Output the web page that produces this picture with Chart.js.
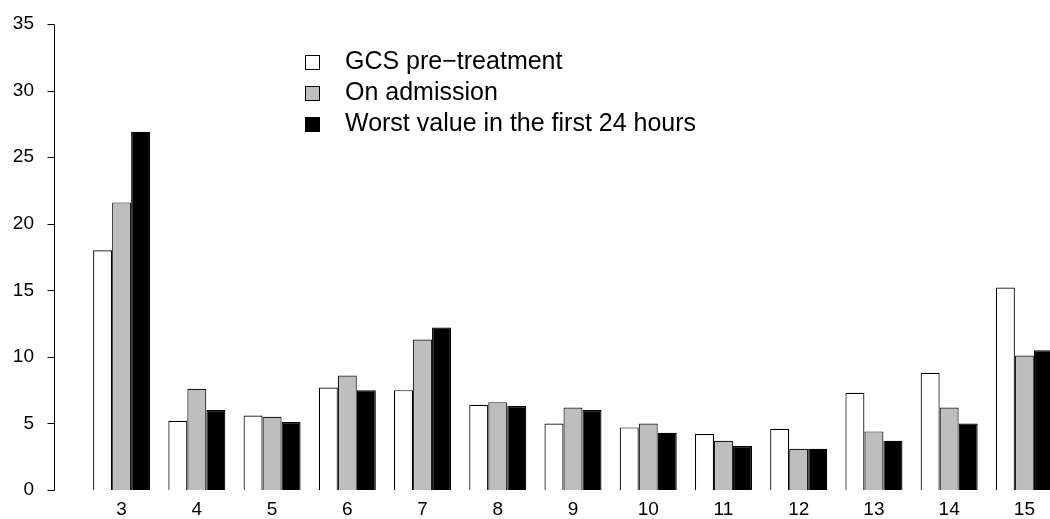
<!DOCTYPE html>
<html>
<head>
<meta charset="utf-8">
<script src="https://cdn.jsdelivr.net/npm/chart.js@4/dist/chart.umd.min.js"></script>
<style>
    html, body { margin: 0; padding: 0; background: #fff; overflow: hidden; }
    #box { width: 1070px; height: 519px; }
</style>
</head>
<body>
<div id="box"><canvas id="gcs" width="1070" height="519"></canvas></div>
<script>
// GCS score, percent of patients
const scores = ['3', '4', '5', '6', '7', '8', '9', '10', '11', '12', '13', '14', '15'];
const preTreatment = [18.0, 5.2, 5.6, 7.7, 7.5, 6.4, 5.0, 4.7, 4.2, 4.6, 7.3, 8.8, 15.2];
const onAdmission = [21.6, 7.6, 5.5, 8.6, 11.3, 6.6, 6.2, 5.0, 3.7, 3.1, 4.4, 6.2, 10.1];
const worst24h = [26.9, 6.0, 5.1, 7.5, 12.2, 6.3, 6.0, 4.3, 3.3, 3.1, 3.7, 5.0, 10.5];
const yMax = 35;

const font = '"Liberation Sans", Arial, sans-serif';

// R-like y axis: line only from first to last tick, ticks pointing out
const rAxis = {
    id: 'rAxis',
    afterDraw(chart) {
        const ctx = chart.ctx;
        const y = chart.scales.y;
        const x0 = 54.5;
        ctx.save();
        ctx.strokeStyle = '#000';
        ctx.lineWidth = 1;
        ctx.beginPath();
        ctx.moveTo(x0, Math.round(y.getPixelForValue(0)) + 0.5);
        ctx.lineTo(x0, Math.round(y.getPixelForValue(yMax)) + 0.5);
        y.ticks.forEach(t => {
            const py = Math.round(y.getPixelForValue(t.value)) + 0.5;
            ctx.moveTo(x0 - 7, py);
            ctx.lineTo(x0, py);
        });
        ctx.stroke();
        ctx.restore();
    },
};

// legend inside the plot, like legend() in R
const rLegend = {
    id: 'rLegend',
    afterDraw(chart) {
        const ctx = chart.ctx;
        ctx.save();
        ctx.font = '25px ' + font;
        ctx.textBaseline = 'middle';
        chart.data.datasets.forEach((ds, i) => {
            const cy = 62 + i * 31;
            ctx.fillStyle = ds.backgroundColor;
            ctx.fillRect(305, cy - 7, 15, 15);
            ctx.strokeStyle = '#000';
            ctx.lineWidth = 1;
            ctx.strokeRect(305.5, cy - 6.5, 14, 14);
            ctx.fillStyle = '#000';
            ctx.fillText(ds.label, 345, cy);
        });
        ctx.restore();
    },
};

new Chart(document.querySelector('#gcs'), {
    type: 'bar',
    data: {
        labels: scores,
        datasets: [
            {
                label: 'GCS pre\u2212treatment',
                data: preTreatment,
                backgroundColor: '#ffffff',
                borderColor: '#000000',
                borderWidth: 1.2,
            },
            {
                label: 'On admission',
                data: onAdmission,
                backgroundColor: '#bebebe',
                borderColor: '#1a1a1a',
                borderWidth: 1.2,
            },
            {
                label: 'Worst value in the first 24 hours',
                data: worst24h,
                backgroundColor: '#000000',
                borderColor: '#000000',
                borderWidth: 1.2,
            },
        ],
    },
    options: {
        responsive: false,
        animation: false,
        devicePixelRatio: 1,
        layout: { padding: { top: 24, right: 8, left: 0, bottom: 0 } },
        datasets: {
            bar: { categoryPercentage: 0.758, barPercentage: 1.0 },
        },
        plugins: {
            legend: { display: false },
            tooltip: { enabled: false },
        },
        scales: {
            x: {
                grid: { display: false, drawTicks: false },
                border: { display: false },
                ticks: { color: '#000', font: { family: font, size: 19 }, padding: 8, maxRotation: 0, autoSkip: false },
                afterFit(scale) { scale.height = 29; },
            },
            y: {
                min: 0,
                max: yMax,
                grid: { display: false, drawTicks: false },
                border: { display: false },
                ticks: { stepSize: 5, color: '#000', font: { family: font, size: 19 }, padding: 50 },
                afterFit(scale) {
                    // big label padding should not push the plot area down
                    scale.width = 84;
                    scale.paddingTop = 0;
                    scale.paddingBottom = 0;
                },
            },
        },
    },
    plugins: [rAxis, rLegend],
});
</script>
</body>
</html>
